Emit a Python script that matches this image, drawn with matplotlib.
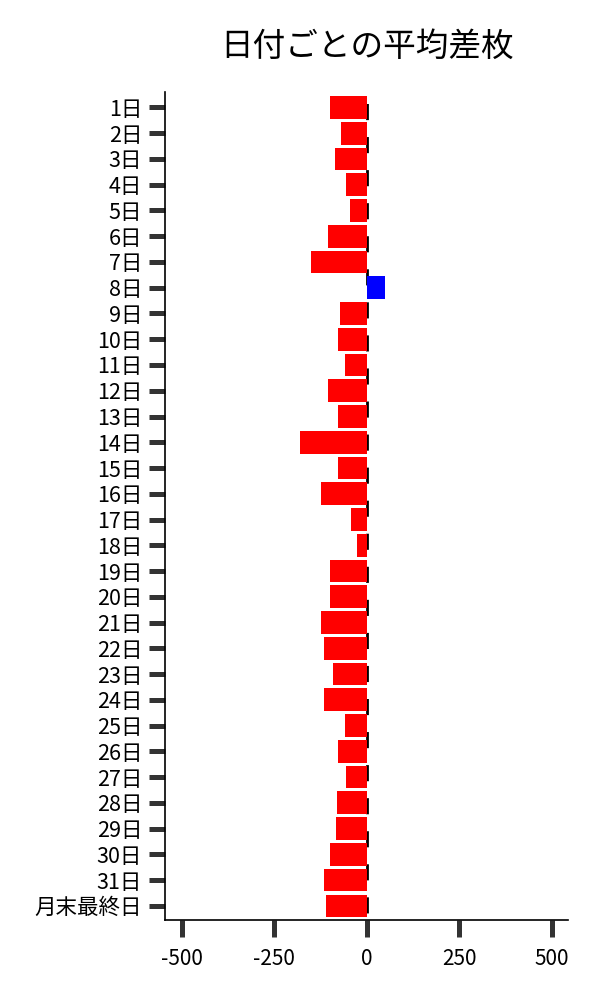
import matplotlib
matplotlib.use("Agg")
import matplotlib.pyplot as plt


plt.rcParams['font.family'] = ['Noto Sans CJK JP', 'DejaVu Sans']

# Data:

day_labels = [f"{d}日" for d in range(1, 32)] + ["月末最終日"]
avg_diff = [
    -100, -68, -86, -57, -46, -105, -149, 49, -73, -76,
    -59, -105, -78, -181, -78, -124, -41, -27, -100, -100,
    -122, -116, -92, -114, -59, -76, -57, -81, -84, -100,
    -116, -111
]
x_ticks = [-500, -250, 0, 250, 500]

bar_colors = ["#0000ff" if v > 0 else "#ff0000" for v in avg_diff]

# Figure setup:

fig = plt.figure(figsize=(6, 10), dpi=100)
ax = fig.add_axes([0.275, 0.08, 0.672, 0.828])

positions = list(range(len(day_labels)))
ax.axvline(0, color="black", linewidth=2,
           linestyle=(9.36, (5.8, 6.1)), zorder=1)
ax.barh(positions, avg_diff, height=0.88, color=bar_colors, zorder=2)

ax.set_yticks(positions)
ax.set_yticklabels(day_labels, fontsize=15.5)
ax.set_ylim(len(day_labels) - 0.45, -0.6)

ax.set_xticks(x_ticks)
ax.set_xticklabels([str(t) for t in x_ticks], fontsize=15)
ax.set_xlim(-545, 545)

ax.tick_params(axis="y", length=11.5, width=3.6, color="#333333", pad=5)
ax.tick_params(axis="x", length=12, width=3.6, color="#333333", pad=8)

for side in ["top", "right"]:
    ax.spines[side].set_visible(False)
for side in ["left", "bottom"]:
    ax.spines[side].set_linewidth(1.2)

ax.set_title("日付ごとの平均差枚", fontsize=23.5, pad=26)

fig.savefig("out.png", dpi=100)
